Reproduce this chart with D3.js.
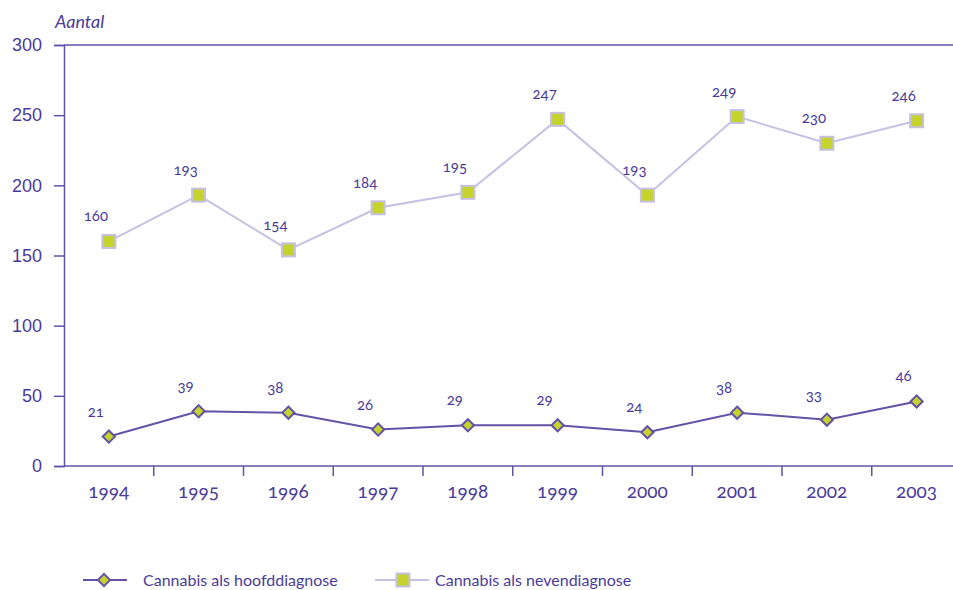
<!DOCTYPE html>
<html>
<head>
<meta charset="utf-8">
<script src="https://cdn.jsdelivr.net/npm/d3@7"></script>
<style>
    body { margin: 0; background: #fff; }
    svg { font-family: Lato, "Open Sans", sans-serif; font-variant-numeric: oldstyle-nums; }
    .axis text { fill: #4b3b9a; }
</style>
</head>
<body>
<svg id="chart" width="953" height="590"></svg>
<script>
// data
var years = ["1994", "1995", "1996", "1997", "1998", "1999", "2000", "2001", "2002", "2003"];
var hoofd = [21, 39, 38, 26, 29, 29, 24, 38, 33, 46];
var neven = [160, 193, 154, 184, 195, 247, 193, 249, 230, 246];
var yTicks = [0, 50, 100, 150, 200, 250, 300];
var seriesNames = ["Cannabis als hoofddiagnose", "Cannabis als nevendiagnose"];

var textColor = "#4b3b9a";
var darkLine = "#6352a8";
var lightLine = "#c6c0e2";
var green = "#c5d42c";

var svg = d3.select("#chart");

//Plot area; right side runs past the window edge like the original.
var margin = {top: 45, left: 64};
var plotBottom = 466;
var plotRight = 961.5;

var x = d3.scaleBand().domain(years).range([margin.left, plotRight]);
var y = d3.scaleLinear().domain([0, 300]).range([plotBottom, margin.top]);

// top border line
svg.append("line")
    .attr("x1", margin.left).attr("x2", plotRight)
    .attr("y1", y(300)).attr("y2", y(300))
    .attr("stroke", darkLine).attr("stroke-width", 1.5);

// y axis
var yAxis = svg.append("g")
    .attr("class", "axis")
    .attr("transform", "translate(" + margin.left + ",0)")
    .call(d3.axisLeft(y).tickValues(yTicks).tickSize(10).tickPadding(12));
yAxis.select(".domain").attr("stroke", darkLine).attr("stroke-width", 1.5);
yAxis.selectAll(".tick line").attr("stroke", darkLine).attr("stroke-width", 1.5);
yAxis.selectAll(".tick text").attr("font-size", 18);

// x axis: ticks at category boundaries
var xAxis = svg.append("g")
    .attr("class", "axis")
    .attr("transform", "translate(0," + plotBottom + ")");
xAxis.append("line")
    .attr("x1", margin.left).attr("x2", plotRight)
    .attr("stroke", darkLine).attr("stroke-width", 1.5);
xAxis.selectAll(".bound")
    .data(years.slice(1))
    .enter().append("line")
    .attr("x1", function(d) { return x(d); })
    .attr("x2", function(d) { return x(d); })
    .attr("y1", 0).attr("y2", 10)
    .attr("stroke", darkLine).attr("stroke-width", 1.5);
xAxis.selectAll(".yr")
    .data(years)
    .enter().append("text")
    .attr("x", function(d) { return x(d) + x.bandwidth() / 2; })
    .attr("y", 32)
    .attr("text-anchor", "middle")
    .attr("font-size", 19)
    .text(function(d) { return d; });

// y title
svg.append("text")
    .attr("x", 55).attr("y", 28)
    .attr("font-size", 18)
    .attr("font-style", "italic")
    .attr("fill", textColor)
    .text("Aantal");

var cx = function(d, i) { return x(years[i]) + x.bandwidth() / 2; };
var line = d3.line().x(cx).y(function(d) { return y(d); });

// nevendiagnose series (light line, squares)
svg.append("path")
    .datum(neven)
    .attr("d", line)
    .attr("fill", "none")
    .attr("stroke", lightLine)
    .attr("stroke-width", 2);
svg.selectAll(".sq")
    .data(neven)
    .enter().append("rect")
    .attr("x", function(d, i) { return cx(d, i) - 6.5; })
    .attr("y", function(d) { return y(d) - 6.5; })
    .attr("width", 13).attr("height", 13)
    .attr("fill", green)
    .attr("stroke", lightLine)
    .attr("stroke-width", 2);

// hoofddiagnose series (dark line, diamonds)
svg.append("path")
    .datum(hoofd)
    .attr("d", line)
    .attr("fill", "none")
    .attr("stroke", darkLine)
    .attr("stroke-width", 2);
var diamond = d3.symbol().type(d3.symbolDiamond2).size(95);
svg.selectAll(".dm")
    .data(hoofd)
    .enter().append("path")
    .attr("d", diamond)
    .attr("transform", function(d, i) { return "translate(" + cx(d, i) + "," + y(d) + ")"; })
    .attr("fill", green)
    .attr("stroke", darkLine)
    .attr("stroke-width", 2);

// value labels
function labels(data) {
    svg.append("g").selectAll("text")
        .data(data)
        .enter().append("text")
        .attr("x", function(d, i) { return cx(d, i) - 13; })
        .attr("y", function(d) { return y(d) - 20; })
        .attr("text-anchor", "middle")
        .attr("font-size", 15)
        .attr("fill", textColor)
        .text(function(d) { return d; });
}
labels(neven);
labels(hoofd);

// legend
var legend = svg.append("g").attr("transform", "translate(0,580)");
legend.append("line").attr("x1", 83).attr("x2", 127)
    .attr("stroke", darkLine).attr("stroke-width", 2);
legend.append("path")
    .attr("d", diamond)
    .attr("transform", "translate(104,0)")
    .attr("fill", green).attr("stroke", darkLine).attr("stroke-width", 2);
legend.append("text").attr("x", 143).attr("y", 6)
    .attr("font-size", 16).attr("fill", textColor)
    .text(seriesNames[0]);
legend.append("line").attr("x1", 375).attr("x2", 429)
    .attr("stroke", lightLine).attr("stroke-width", 2);
legend.append("rect")
    .attr("x", 396.5).attr("y", -6.5).attr("width", 13).attr("height", 13)
    .attr("fill", green).attr("stroke", lightLine).attr("stroke-width", 2);
legend.append("text").attr("x", 435).attr("y", 6)
    .attr("font-size", 16).attr("fill", textColor)
    .text(seriesNames[1]);
</script>
</body>
</html>
